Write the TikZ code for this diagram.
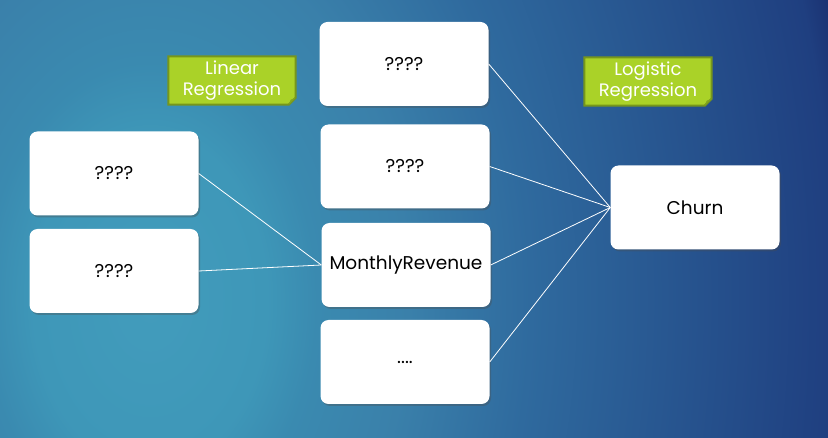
\documentclass[tikz,border=0pt]{standalone}
\usepackage{fontspec}
\setmainfont{Poppins}
\usetikzlibrary{shadows}
\definecolor{tagfill}{RGB}{170,210,40}
\definecolor{tagedge}{RGB}{118,150,28}
\definecolor{tagfold}{RGB}{130,165,30}
% radial glow: light teal on the left fading into navy at the top right
% (the path's bounding box spans the central 50bp of the shading)
\pgfdeclareradialshading{bgglow}{\pgfpoint{0bp}{0bp}}{%
  rgb(0bp)=(0.259,0.612,0.737);
  rgb(3.85bp)=(0.243,0.592,0.722);
  rgb(5.5bp)=(0.227,0.541,0.690);
  rgb(8.5bp)=(0.227,0.502,0.667);
  rgb(12.5bp)=(0.184,0.416,0.620);
  rgb(22.5bp)=(0.122,0.247,0.502);
  rgb(23.5bp)=(0.102,0.188,0.439);
  rgb(25bp)=(0.094,0.173,0.424);
  rgb(50bp)=(0.094,0.173,0.424)}
\pgfdeclarelayer{bg}
\pgfdeclarelayer{mid}
\pgfsetlayers{bg,mid,main}
\tikzset{
  card/.style={fill=white, rounded corners=8pt, minimum width=169pt, minimum height=84pt,
    inner sep=0pt, font=\fontsize{18.5}{22}\selectfont,
    drop shadow={shadow xshift=1.5pt, shadow yshift=-2pt, opacity=0.35, fill=black!70}},
  tag/.style={text=white, align=center, inner sep=0pt, minimum width=127pt, minimum height=48pt,
    font=\fontsize{18}{21}\selectfont},
  link/.style={draw=white, line width=0.8pt},
}
\newcommand{\tagshape}[1]{%
  \begin{pgfonlayer}{mid}
    \filldraw[fill=tagfill, draw=tagedge, line width=2pt, line join=miter]
      (#1.north west) -- (#1.north east) -- ([yshift=7pt]#1.south east)
      -- ([xshift=-7pt]#1.south east) -- (#1.south west) -- cycle;
    \fill[tagfold] ([yshift=7pt]#1.south east) -- ([xshift=-7pt]#1.south east)
      -- ([xshift=-5pt,yshift=5pt]#1.south east) -- cycle;
  \end{pgfonlayer}}
\begin{document}
\begin{tikzpicture}[x=1pt,y=-1pt]
  \useasboundingbox (0,0) rectangle (828,438);
  % background
  \begin{pgfonlayer}{bg}
    \begin{scope}
      \clip (0,0) rectangle (828,438);
      \shade[shading=bgglow] (150,300) ellipse (760pt and 1086pt);
    \end{scope}
  \end{pgfonlayer}

  % cards
  \node[card] (l1) at (114,173.5) {????};
  \node[card] (l2) at (114,271) {????};
  \node[card] (m1) at (404,64) {????};
  \node[card] (m2) at (405,166.5) {????};
  \node[card] (m3) at (406,265) {MonthlyRevenue};
  \node[card] (m4) at (405,362) {....};
  \node[card] (ch) at (695,207.5) {Churn};

  % tags
  \node[tag] (lin) at (232,80.5) {Linear\\Regression};
  \tagshape{lin}
  \node[tag] (log) at (648,81.5) {Logistic\\Regression};
  \tagshape{log}

  % connectors
  \draw[link] (l1.east) -- (m3.west);
  \draw[link] (l2.east) -- (m3.west);
  \draw[link] (m1.east) -- (ch.west);
  \draw[link] (m2.east) -- (ch.west);
  \draw[link] (m3.east) -- (ch.west);
  \draw[link] (m4.east) -- (ch.west);
\end{tikzpicture}
\end{document}
